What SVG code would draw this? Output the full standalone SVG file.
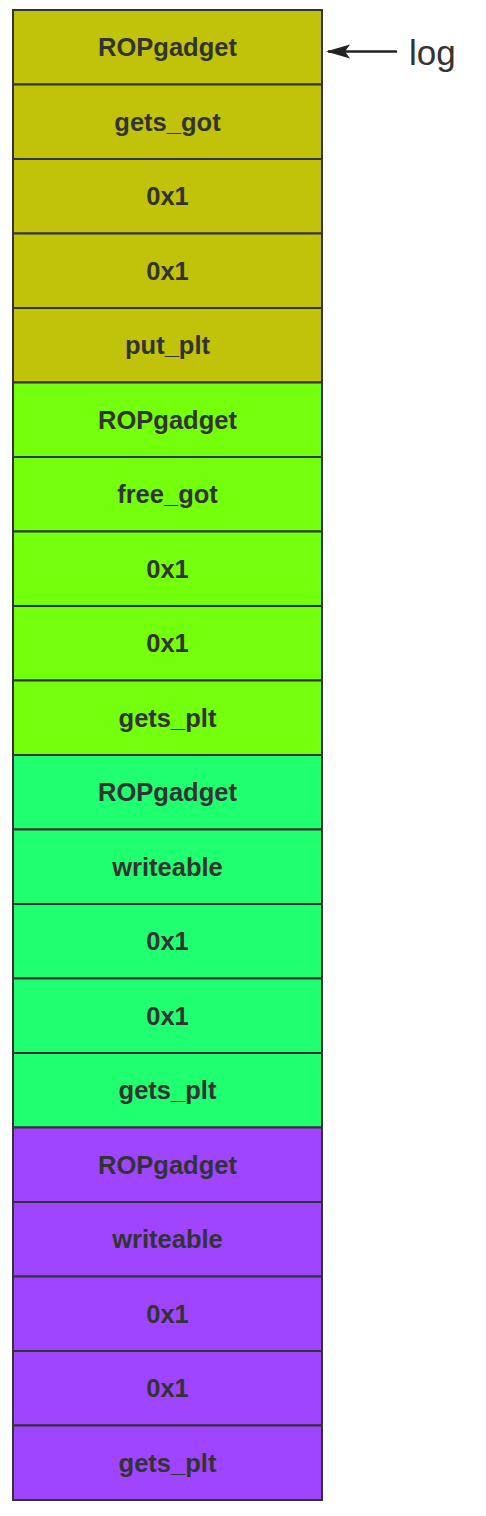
<svg xmlns="http://www.w3.org/2000/svg" width="486" height="1516" viewBox="0 0 486 1516">
<defs>
<style>
.cell{stroke:#333;stroke-width:2}
.c1{fill:#c1c30b}
.c2{fill:#74ff0c}
.c3{fill:#20ff70}
.c4{fill:#9f45ff}
.t{font-family:"Liberation Sans",Arial,sans-serif;font-weight:bold;font-size:25.5px;fill:#333;text-anchor:middle}
.lbl{font-family:"Liberation Sans",Arial,sans-serif;font-size:35px;fill:#333}
</style>
<marker id="ah" markerWidth="24" markerHeight="16" refX="22" refY="8" orient="auto" markerUnits="userSpaceOnUse" viewBox="0 0 24 16">
<path d="M0,1 L24,8 L0,15 L5,8 Z" fill="#222"/>
</marker>
</defs>
<g id="n1"><rect class="cell c1" x="13" y="10" width="309" height="74.5"/><text class="t" x="167.5" y="56">ROPgadget</text></g>
<g id="n2"><rect class="cell c1" x="13" y="84.5" width="309" height="74.5"/><text class="t" x="167.5" y="130.5">gets_got</text></g>
<g id="n3"><rect class="cell c1" x="13" y="159" width="309" height="74.5"/><text class="t" x="167.5" y="205">0x1</text></g>
<g id="n4"><rect class="cell c1" x="13" y="233.5" width="309" height="74.5"/><text class="t" x="167.5" y="279.5">0x1</text></g>
<g id="n5"><rect class="cell c1" x="13" y="308" width="309" height="74.5"/><text class="t" x="167.5" y="354">put_plt</text></g>
<g id="n6"><rect class="cell c2" x="13" y="382.5" width="309" height="74.5"/><text class="t" x="167.5" y="428.5">ROPgadget</text></g>
<g id="n7"><rect class="cell c2" x="13" y="457" width="309" height="74.5"/><text class="t" x="167.5" y="503">free_got</text></g>
<g id="n8"><rect class="cell c2" x="13" y="531.5" width="309" height="74.5"/><text class="t" x="167.5" y="577.5">0x1</text></g>
<g id="n9"><rect class="cell c2" x="13" y="606" width="309" height="74.5"/><text class="t" x="167.5" y="652">0x1</text></g>
<g id="n10"><rect class="cell c2" x="13" y="680.5" width="309" height="74.5"/><text class="t" x="167.5" y="726.5">gets_plt</text></g>
<g id="n11"><rect class="cell c3" x="13" y="755" width="309" height="74.5"/><text class="t" x="167.5" y="801">ROPgadget</text></g>
<g id="n12"><rect class="cell c3" x="13" y="829.5" width="309" height="74.5"/><text class="t" x="167.5" y="875.5">writeable</text></g>
<g id="n13"><rect class="cell c3" x="13" y="904" width="309" height="74.5"/><text class="t" x="167.5" y="950">0x1</text></g>
<g id="n14"><rect class="cell c3" x="13" y="978.5" width="309" height="74.5"/><text class="t" x="167.5" y="1024.5">0x1</text></g>
<g id="n15"><rect class="cell c3" x="13" y="1053" width="309" height="74.5"/><text class="t" x="167.5" y="1099">gets_plt</text></g>
<g id="n16"><rect class="cell c4" x="13" y="1127.5" width="309" height="74.5"/><text class="t" x="167.5" y="1173.5">ROPgadget</text></g>
<g id="n17"><rect class="cell c4" x="13" y="1202" width="309" height="74.5"/><text class="t" x="167.5" y="1248">writeable</text></g>
<g id="n18"><rect class="cell c4" x="13" y="1276.5" width="309" height="74.5"/><text class="t" x="167.5" y="1322.5">0x1</text></g>
<g id="n19"><rect class="cell c4" x="13" y="1351" width="309" height="74.5"/><text class="t" x="167.5" y="1397">0x1</text></g>
<g id="n20"><rect class="cell c4" x="13" y="1425.5" width="309" height="74.5"/><text class="t" x="167.5" y="1471.5">gets_plt</text></g>
<g id="log"><text class="lbl" x="409" y="65">log</text></g>
<g id="connectors">
<line x1="397" y1="51.5" x2="328" y2="51.5" stroke="#222" stroke-width="2.5" marker-end="url(#ah)"/>
</g>
</svg>
